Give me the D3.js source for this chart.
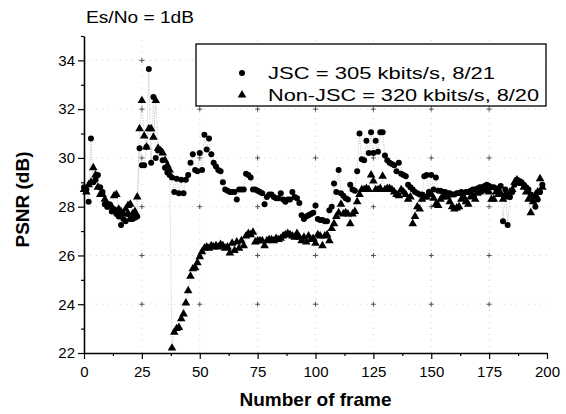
<!DOCTYPE html>
<html>
<head>
<meta charset="utf-8">
<script src="https://cdn.jsdelivr.net/npm/d3@7"></script>
<style>
	body { margin: 0; background: #fff; }
	svg { font-family: "Liberation Sans", Arial, sans-serif; }
</style>
</head>
<body>
<div id="chart-container"></div>
<script>
const width = 566;
const height = 414;
const margin = { top: 36, right: 19, bottom: 61, left: 84 };

// PSNR per frame
const jsc = [
	28.8, 28.7, 28.2, 30.8, 29.0, 29.1, 29.3, 28.8, 28.6, 28.1,
	28.0, 28.1, 27.8, 27.9, 27.7, 27.6, 27.25, 27.5, 27.4, 27.7,
	27.5, 27.5, 27.55, 27.6, 30.4, 29.7, 29.7, 30.45, 33.65, 29.8,
	32.5, 30.0, 30.3, 30.3, 29.9, 29.6, 29.4, 29.3, 29.2, 28.6,
	29.15, 28.55, 29.1, 28.55, 29.1, 29.3, 29.8, 30.15, 29.5, 29.45,
	30.2, 29.5, 30.95, 30.35, 30.8, 30.15, 29.8, 29.65, 29.5, 29.45,
	29.0, 28.7, 28.65, 28.6, 28.6, 28.6, 28.3, 28.7, 28.7, 28.7,
	29.35, 29.3, 29.2, 28.7, 28.7, 28.65, 28.6, 28.55, 28.1, 28.4,
	28.5, 28.5, 28.4, 28.35, 28.35, 28.55, 28.3, 28.2, 28.3, 28.3,
	28.6, 28.4, 28.35, 28.15, 27.65, 27.5, 27.6, 27.65, 27.7, 27.75,
	28.05, 27.5, 27.45, 27.45, 27.4, 27.4, 27.85, 28.0, 28.95, 28.6,
	29.5, 28.55, 28.45, 28.35, 28.3, 28.9, 28.7, 28.65, 29.45, 31.0,
	29.95, 29.9, 30.7, 30.2, 31.05, 30.2, 30.7, 30.25, 31.05, 31.05,
	30.1, 29.9, 29.8, 29.75, 29.7, 29.45, 29.8, 29.35, 29.3, 29.25,
	28.9, 28.8, 28.7, 28.6, 28.55, 28.5, 28.5, 29.25, 29.3, 28.6,
	29.3, 28.7, 29.2, 28.65, 28.65, 28.6, 28.6, 28.55, 28.55, 28.5,
	28.5, 28.55, 28.55, 28.6, 28.55, 28.6, 28.6, 28.65, 28.7, 28.7,
	28.75, 28.8, 28.8, 28.85, 28.9, 28.85, 28.8, 28.8, 28.75, 28.75,
	28.85, 27.4, 28.7, 27.25, 28.4, 28.6, 28.9, 29.1, 29.05, 29.0,
	28.9, 28.8, 28.7, 28.5, 28.4, 28.0, 28.3, 28.6, 28.9
];

const nonJsc = [
	28.7, 28.6, 28.9, 29.0, 29.6, 29.3, 28.8, 28.5, 28.5, 28.3,
	28.1, 28.0, 28.0, 28.45, 28.5, 27.9, 27.8, 27.7, 27.9, 28.05,
	28.1, 27.7, 27.8, 28.4, 31.2, 32.35, 30.9, 30.45, 31.2, 31.2,
	30.85, 32.35, 30.4, 30.3, 30.2, 29.9, 29.7, 29.5, 22.2, 22.85,
	23.0, 23.05, 23.4, 23.6, 24.05, 24.55, 25.15, 25.45, 25.5, 25.7,
	25.95, 26.15, 26.3, 26.35, 26.3, 26.4, 26.35, 26.4, 26.35, 26.45,
	26.4, 26.3, 26.35, 26.1, 26.5, 26.2, 26.55, 26.3, 26.6, 26.4,
	26.8, 26.9, 26.85, 26.95, 26.55, 26.6, 26.6, 26.6, 26.4, 26.6,
	26.65, 26.65, 26.6, 26.7, 26.65, 26.7, 26.8, 26.85, 26.9, 26.85,
	26.8, 26.75, 26.9, 26.75, 26.6, 26.75, 26.55, 26.8, 26.65, 26.7,
	26.5, 26.85, 26.8, 26.4, 26.8, 26.85, 26.6, 27.1, 27.3, 27.6,
	27.75, 28.1, 27.7, 27.75, 27.7, 27.3, 27.7, 27.8, 28.2, 28.5,
	28.7, 28.7, 28.75, 28.7, 29.3, 29.05, 28.7, 28.7, 28.75, 29.25,
	28.7, 28.75, 28.75, 28.7, 28.6, 28.5, 28.45, 28.7, 28.6, 28.5,
	28.3, 28.4, 27.3, 27.6, 28.0, 27.9, 28.3, 28.4, 28.4, 28.5,
	28.5, 28.35, 28.1, 28.05, 28.3, 28.4, 28.45, 28.4, 28.2, 28.0,
	27.9, 27.95, 28.0, 28.3, 28.4, 28.2, 28.1, 28.4, 28.5, 28.3,
	28.55, 28.6, 28.7, 28.7, 28.65, 28.6, 28.3, 28.3, 28.6, 28.5,
	28.55, 28.3, 28.5, 28.4, 28.6, 28.7, 29.0, 29.1, 29.0, 28.95,
	28.8, 28.6, 28.3, 27.75, 28.2, 28.5, 28.6, 29.15, 28.8
];

const xTicks = [0, 25, 50, 75, 100, 125, 150, 175, 200];
const xMinor = [12.5, 37.5, 62.5, 87.5, 112.5, 137.5, 162.5, 187.5];
const yTicks = [22, 24, 26, 28, 30, 32, 34];
const yMinor = [23, 25, 27, 29, 31, 33, 35];
const legendLabels = ["JSC = 305 kbits/s, 8/21", "Non-JSC = 320 kbits/s, 8/20"];

const svg = d3
	.select("#chart-container")
	.append("svg")
	.attr("width", width)
	.attr("height", height);

const x = d3
	.scaleLinear()
	.domain([0, 200])
	.range([margin.left, width - margin.right]);

const y = d3
	.scaleLinear()
	.domain([22, 35])
	.range([height - margin.bottom, margin.top]);

// faint dotted grid with + marks at crossings
const grid = svg.append("g");
grid.selectAll(".hg")
	.data(yTicks.slice(1))
	.enter()
	.append("line")
	.attr("x1", x(0))
	.attr("x2", x(200))
	.attr("y1", (d) => y(d))
	.attr("y2", (d) => y(d))
	.attr("stroke", "#c8c8c8")
	.attr("stroke-width", 0.8)
	.attr("stroke-dasharray", "1,5");
grid.selectAll(".vg")
	.data(xTicks.slice(1, -1))
	.enter()
	.append("line")
	.attr("x1", (d) => x(d))
	.attr("x2", (d) => x(d))
	.attr("y1", y(22))
	.attr("y2", y(35))
	.attr("stroke", "#c8c8c8")
	.attr("stroke-width", 0.8)
	.attr("stroke-dasharray", "1,5");
const crosses = [];
xTicks.slice(1, -1).forEach((a) => yTicks.slice(1).forEach((b) => crosses.push([a, b])));
grid.selectAll(".cross")
	.data(crosses)
	.enter()
	.append("path")
	.attr("d", (d) => `M${x(d[0]) - 2.5},${y(d[1])}h5M${x(d[0])},${y(d[1]) - 2.5}v5`)
	.attr("stroke", "#444")
	.attr("stroke-width", 0.9);

// axes
svg.append("g")
	.attr("transform", `translate(0,${y(22)})`)
	.call(d3.axisBottom(x).tickValues(xTicks).tickSize(6).tickSizeOuter(0).tickPadding(7));
svg.append("g")
	.attr("transform", `translate(0,${y(22)})`)
	.call(d3.axisBottom(x).tickValues(xMinor).tickSize(3).tickFormat(""))
	.call((g) => g.select(".domain").remove());

svg.append("g")
	.attr("transform", `translate(${x(0)},0)`)
	.call(d3.axisLeft(y).tickValues(yTicks).tickSize(6).tickSizeOuter(0).tickPadding(3));
svg.append("g")
	.attr("transform", `translate(${x(0)},0)`)
	.call(d3.axisLeft(y).tickValues(yMinor).tickSize(3).tickFormat(""))
	.call((g) => g.select(".domain").remove());

svg.selectAll(".domain").attr("stroke", "#000").attr("stroke-width", 1.6);
svg.selectAll(".tick line").attr("stroke", "#000").attr("stroke-width", 1.2);
svg.selectAll(".tick text")
	.attr("fill", "#000")
	.style("font-size", "15px")
	.style("font-family", "Liberation Sans, Arial, sans-serif");

// axis labels
svg.append("text")
	.attr("x", (x(0) + x(200)) / 2)
	.attr("y", 406)
	.attr("text-anchor", "middle")
	.style("font-size", "19px")
	.style("font-weight", "bold")
	.text("Number of frame");

svg.append("text")
	.attr("transform", `translate(29,${(y(22) + y(35)) / 2 + 5}) rotate(-90)`)
	.attr("text-anchor", "middle")
	.style("font-size", "19px")
	.style("font-weight", "bold")
	.text("PSNR (dB)");

svg.append("text")
	.attr("x", 86)
	.attr("y", 23)
	.attr("textLength", 108)
	.attr("lengthAdjust", "spacingAndGlyphs")
	.style("font-size", "17px")
	.text("Es/No = 1dB");

// dotted joining lines
const line = d3
	.line()
	.x((d, i) => x(i))
	.y((d) => y(d));

[jsc, nonJsc].forEach((series) => {
	svg.append("path")
		.datum(series)
		.attr("fill", "none")
		.attr("stroke", "#999")
		.attr("stroke-width", 0.6)
		.attr("stroke-dasharray", "1,1.5")
		.attr("d", line);
});

const tri = d3.symbol().type(d3.symbolTriangle).size(32);

svg.selectAll(".tri")
	.data(nonJsc)
	.enter()
	.append("path")
	.attr("class", "tri")
	.attr("transform", (d, i) => `translate(${x(i)},${y(d)})`)
	.attr("d", tri)
	.attr("fill", "#000");

svg.selectAll(".dot")
	.data(jsc)
	.enter()
	.append("circle")
	.attr("class", "dot")
	.attr("cx", (d, i) => x(i))
	.attr("cy", (d) => y(d))
	.attr("r", 3)
	.attr("fill", "#000");

// legend
const legend = svg.append("g");
legend.append("rect")
	.attr("x", 196)
	.attr("y", 44)
	.attr("width", 350)
	.attr("height", 62)
	.attr("fill", "#fff")
	.attr("stroke", "#000")
	.attr("stroke-width", 1.3);
legend.append("circle")
	.attr("cx", 242)
	.attr("cy", 73)
	.attr("r", 3)
	.attr("fill", "#000");
legend.append("path")
	.attr("transform", "translate(242,95)")
	.attr("d", tri)
	.attr("fill", "#000");
legend.selectAll(".lt")
	.data(legendLabels)
	.enter()
	.append("text")
	.attr("x", 268)
	.attr("y", (d, i) => 79 + i * 22)
	.attr("textLength", (d, i) => (i === 0 ? 227 : 271))
	.attr("lengthAdjust", "spacingAndGlyphs")
	.style("font-size", "17px")
	.text((d) => d);
</script>
</body>
</html>
